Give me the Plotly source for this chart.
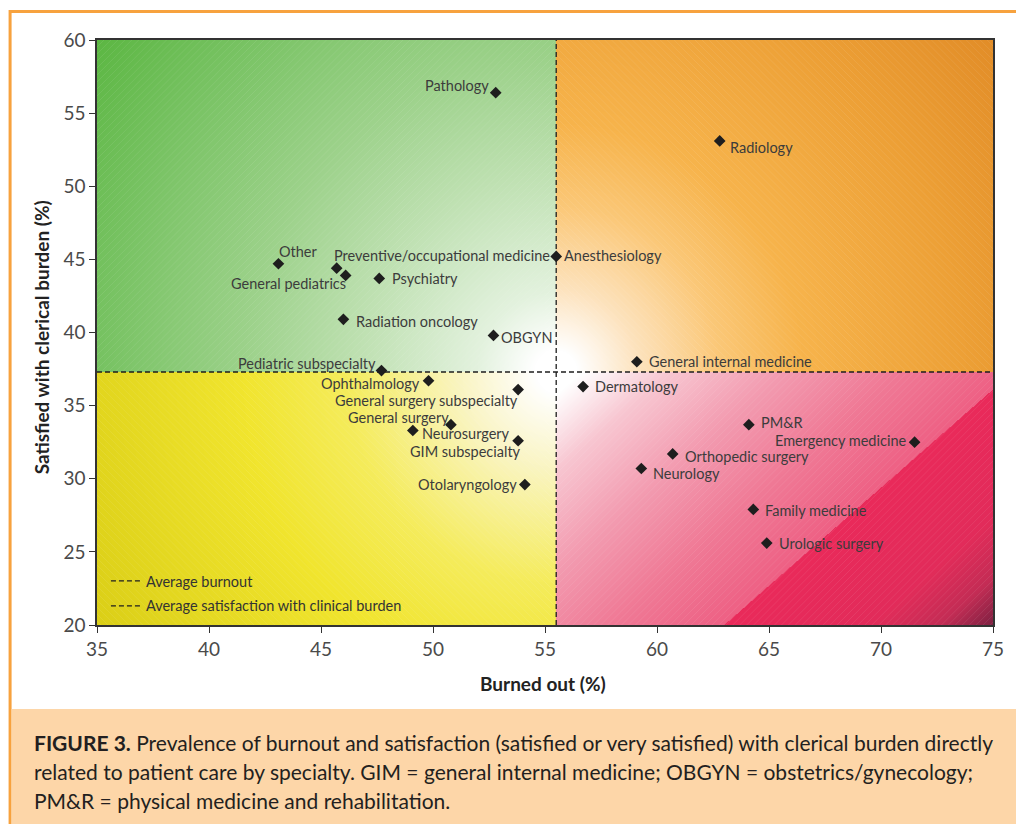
import base64
import struct
import zlib

import numpy as np
import plotly.graph_objects as go

# ---------------- data ----------------
specialties = [
    "Pathology", "Radiology", "Other", "Preventive/occupational medicine",
    "General pediatrics", "Psychiatry", "Anesthesiology", "Radiation oncology",
    "OBGYN", "Pediatric subspecialty", "General internal medicine",
    "Ophthalmology", "General surgery subspecialty", "Dermatology",
    "General surgery", "Neurosurgery", "GIM subspecialty", "PM&R",
    "Emergency medicine", "Orthopedic surgery", "Neurology", "Otolaryngology",
    "Family medicine", "Urologic surgery",
]
burned_out = [
    52.8, 62.8, 43.1, 45.7,
    46.1, 47.6, 55.5, 46.0,
    52.7, 47.7, 59.1,
    49.8, 53.8, 56.7,
    50.8, 49.1, 53.8, 64.1,
    71.5, 60.7, 59.3, 54.1,
    64.3, 64.9,
]
satisfied = [
    56.4, 53.1, 44.7, 44.4,
    43.9, 43.7, 45.2, 40.9,
    39.8, 37.4, 38.0,
    36.7, 36.1, 36.3,
    33.7, 33.3, 32.6, 33.7,
    32.5, 31.7, 30.7, 29.6,
    27.9, 25.6,
]
avg_burnout = 55.5
avg_satisfaction = 37.3
x_ticks = [35, 40, 45, 50, 55, 60, 65, 70, 75]
y_ticks = [20, 25, 30, 35, 40, 45, 50, 55, 60]

# label placement (style): anchor side, x shift px, y shift px
label_style = {
    "Pathology": ("right", -6, 7),
    "Radiology": ("left", 9, -7),
    "Other": ("left", 0, 12),
    "Preventive/occupational medicine": ("left", -4, 13),
    "General pediatrics": ("right", 1, -8),
    "Psychiatry": ("left", 12, 0),
    "Anesthesiology": ("left", 7, 1),
    "Radiation oncology": ("left", 12, -2),
    "OBGYN": ("left", 7, -2),
    "Pediatric subspecialty": ("right", -4, 7),
    "General internal medicine": ("left", 11, 0),
    "Ophthalmology": ("right", -8, -3),
    "General surgery subspecialty": ("right", 1, -11),
    "Dermatology": ("left", 11, 0),
    "General surgery": ("right", -1, 7),
    "Neurosurgery": ("left", 8, -3),
    "GIM subspecialty": ("right", 4, -11),
    "PM&R": ("left", 11, 2),
    "Emergency medicine": ("right", -8, 2),
    "Orthopedic surgery": ("left", 11, -3),
    "Neurology": ("left", 11, -5),
    "Otolaryngology": ("right", -7, 0),
    "Family medicine": ("left", 11, -1),
    "Urologic surgery": ("left", 11, 0),
}

# ---------------- geometry ----------------
FIG_W, FIG_H = 1016, 824
ML, MR, MT, MB = 97, 17, 40, 199
PW, PH = FIG_W - ML - MR, FIG_H - MT - MB
XMIN, XMAX, YMIN, YMAX = 35, 75, 20, 60


def px_to_paper_x(px):
    return (px - ML) / PW


def py_to_paper_y(py):
    return (MT + PH - py) / PH


# ---------------- background gradient image ----------------
def hexrgb(h):
    h = h.lstrip("#")
    return tuple(int(h[i:i + 2], 16) for i in (0, 2, 4))


def ramp(t, stops):
    pos = [s[0] for s in stops]
    cols = np.array([hexrgb(s[1]) for s in stops], dtype=float)
    out = np.zeros(t.shape + (3,))
    for c in range(3):
        out[..., c] = np.interp(t, pos, cols[:, c])
    return out


W, H = PW, PH
X, Y = np.meshgrid(np.arange(W) + 0.5, np.arange(H) + 0.5)
cx = (avg_burnout - XMIN) / (XMAX - XMIN) * W
cy = (YMAX - avg_satisfaction) / (YMAX - YMIN) * H
dist = np.hypot(X - cx, Y - cy)
img = np.zeros((H, W, 3))

tl = (X < cx) & (Y < cy)
tr = (X >= cx) & (Y < cy)
bl = (X < cx) & (Y >= cy)
br = (X >= cx) & (Y >= cy)

green = ramp(dist / np.hypot(cx, cy), [
    (0, "#ffffff"), (0.04, "#ffffff"), (0.14, "#e3f2de"), (0.35, "#bfe1b2"),
    (0.55, "#9dd28b"), (0.8, "#78c363"), (1.0, "#5cb743")])
orange = ramp(dist / np.hypot(W - cx, cy), [
    (0, "#ffffff"), (0.04, "#ffffff"), (0.15, "#fde3be"), (0.3, "#fbc878"),
    (0.45, "#f7b44c"), (0.75, "#eda036"), (1.0, "#e28d28")])
yellow = ramp(dist / np.hypot(cx, H - cy), [
    (0, "#ffffff"), (0.04, "#ffffff"), (0.18, "#faf5c4"), (0.4, "#f5ec5c"),
    (0.6, "#f1e52e"), (1.0, "#dbcf17")])

# red quadrant: linear gradient with a step along a diagonal
sx0, sy0 = (63 - XMIN) / (XMAX - XMIN) * W, H
sx1, sy1 = W, (YMAX - 36.1) / (YMAX - YMIN) * H
nx, ny = (sy1 - sy0), -(sx1 - sx0)
nrm = np.hypot(nx, ny)
nx, ny = nx / nrm, ny / nrm
if nx < 0:
    nx, ny = -nx, -ny
p = nx * (X - cx) + ny * (Y - cy)
pstep = nx * (sx0 - cx) + ny * (sy0 - cy)
pmax = nx * (W - cx) + ny * (H - cy)
red_a = ramp(p / pstep, [
    (0, "#ffffff"), (0.06, "#ffffff"), (0.25, "#f8c6d1"), (0.5, "#f39bb0"),
    (0.75, "#f07a96"), (1.0, "#ee6084")])
red_b = ramp((p - pstep) / (pmax - pstep), [
    (0, "#ea2a5a"), (0.55, "#e22c5a"), (0.8, "#c42d55"), (1.0, "#7e2142")])
red = np.where((p < pstep)[..., None], red_a, red_b)

img[tl] = green[tl]
img[tr] = orange[tr]
img[bl] = yellow[bl]
img[br] = red[br]

# faint diagonal hatch
hatch_slash = ((X + Y) % 7.0) < 1.0
hatch_back = ((X - Y) % 7.0) < 1.0
for m in ((tl | br) & hatch_slash, (tr | bl) & hatch_back):
    img[m] = img[m] * 0.92 + 255 * 0.08

img = np.clip(img, 0, 255).astype(np.uint8)


def to_png_uri(arr):
    h, w, _ = arr.shape
    raw = b"".join(b"\x00" + arr[i].tobytes() for i in range(h))

    def chunk(tag, data):
        c = struct.pack(">I", len(data)) + tag + data
        return c + struct.pack(">I", zlib.crc32(tag + data) & 0xFFFFFFFF)

    png = (b"\x89PNG\r\n\x1a\n"
           + chunk(b"IHDR", struct.pack(">IIBBBBB", w, h, 8, 2, 0, 0, 0))
           + chunk(b"IDAT", zlib.compress(raw, 9))
           + chunk(b"IEND", b""))
    return "data:image/png;base64," + base64.b64encode(png).decode()


bg_uri = to_png_uri(img)

# ---------------- figure ----------------
FONT = "Lato"
fig = go.Figure()

fig.add_trace(go.Scatter(
    x=[avg_burnout, avg_burnout], y=[YMIN, YMAX], mode="lines",
    name="Average burnout", legendgroup="a",
    line=dict(color="#1e1e1e", width=1.3, dash="5px,3px"),
    hoverinfo="skip"))
fig.add_trace(go.Scatter(
    x=[XMIN, XMAX], y=[avg_satisfaction, avg_satisfaction], mode="lines",
    name="Average satisfaction with clinical burden", legendgroup="b",
    line=dict(color="#1e1e1e", width=1.3, dash="5px,3px"),
    hoverinfo="skip"))

fig.add_trace(go.Scatter(
    x=burned_out, y=satisfied, mode="markers", text=specialties,
    marker=dict(symbol="diamond", size=9, color="#1e1e1e"),
    showlegend=False, cliponaxis=False))

for name, bx, sy in zip(specialties, burned_out, satisfied):
    side, dx, dy = label_style[name]
    fig.add_annotation(
        x=bx, y=sy, xref="x", yref="y", text=name, showarrow=False,
        xanchor=side, yanchor="middle", xshift=dx, yshift=dy, borderpad=0,
        font=dict(family=FONT, size=14.5, color="#3c3c3c"))

fig.add_layout_image(dict(
    source=bg_uri, xref="x", yref="y", x=XMIN, y=YMAX,
    sizex=XMAX - XMIN, sizey=YMAX - YMIN, sizing="stretch",
    xanchor="left", yanchor="top", layer="below"))

# outer orange frame and caption panel
fig.add_shape(type="rect", xref="paper", yref="paper",
              x0=px_to_paper_x(9.5), x1=px_to_paper_x(1030),
              y0=py_to_paper_y(830), y1=py_to_paper_y(11.5),
              line=dict(color="#f7a23e", width=3), fillcolor="rgba(0,0,0,0)",
              layer="below")
fig.add_shape(type="rect", xref="paper", yref="paper",
              x0=px_to_paper_x(11), x1=px_to_paper_x(1030),
              y0=py_to_paper_y(830), y1=py_to_paper_y(709),
              line=dict(width=0), fillcolor="#fdd6a8", layer="below")

caption_lines = [
    "<b>FIGURE 3.</b> Prevalence of burnout and satisfaction (satisfied or very satisfied) with clerical burden directly",
    "related to patient care by specialty. GIM = general internal medicine; OBGYN = obstetrics/gynecology;",
    "PM&R = physical medicine and rehabilitation.",
]
for i, line in enumerate(caption_lines):
    fig.add_annotation(
        text=line, xref="paper", yref="paper",
        x=px_to_paper_x(32), y=py_to_paper_y(742 + 29 * i),
        xanchor="left", yanchor="middle", showarrow=False, align="left",
        font=dict(family=FONT, size=21, color="#231f20"))

# axis titles
fig.add_annotation(text="<b>Burned out (%)</b>", xref="paper", yref="paper",
                   x=px_to_paper_x(546), y=py_to_paper_y(683),
                   xanchor="center", yanchor="middle", showarrow=False,
                   font=dict(family=FONT, size=19, color="#222222"))
fig.add_annotation(text="<b>Satisfied with clerical burden (%)</b>",
                   xref="paper", yref="paper",
                   x=px_to_paper_x(41), y=py_to_paper_y(337), textangle=-90,
                   xanchor="center", yanchor="middle", showarrow=False,
                   font=dict(family=FONT, size=19, color="#222222"))

axis_common = dict(
    showgrid=False, zeroline=False, showline=True, linecolor="#333333",
    linewidth=1.5, mirror=True, ticks="outside", ticklen=6, tickwidth=1.3,
    tickcolor="#333333",
    tickfont=dict(family=FONT, size=19, color="#4a4a4a"),
)
fig.update_xaxes(range=[XMIN, XMAX], tickvals=x_ticks, **axis_common)
fig.update_yaxes(range=[YMIN, YMAX], tickvals=y_ticks, **axis_common)

fig.update_layout(
    width=FIG_W, height=FIG_H,
    margin=dict(l=ML, r=MR, t=MT, b=MB, pad=0),
    paper_bgcolor="#ffffff", plot_bgcolor="rgba(0,0,0,0)",
    font=dict(family=FONT, color="#333333"),
    showlegend=True,
    legend=dict(x=px_to_paper_x(106), y=py_to_paper_y(565),
                xanchor="left", yanchor="top",
                bgcolor="rgba(0,0,0,0)", borderwidth=0,
                font=dict(family=FONT, size=14.5, color="#333333"),
                itemwidth=30, tracegroupgap=3),
)

fig.write_html("out.html", config={"displayModeBar": False},
               post_script="document.body.style.margin='0';")
